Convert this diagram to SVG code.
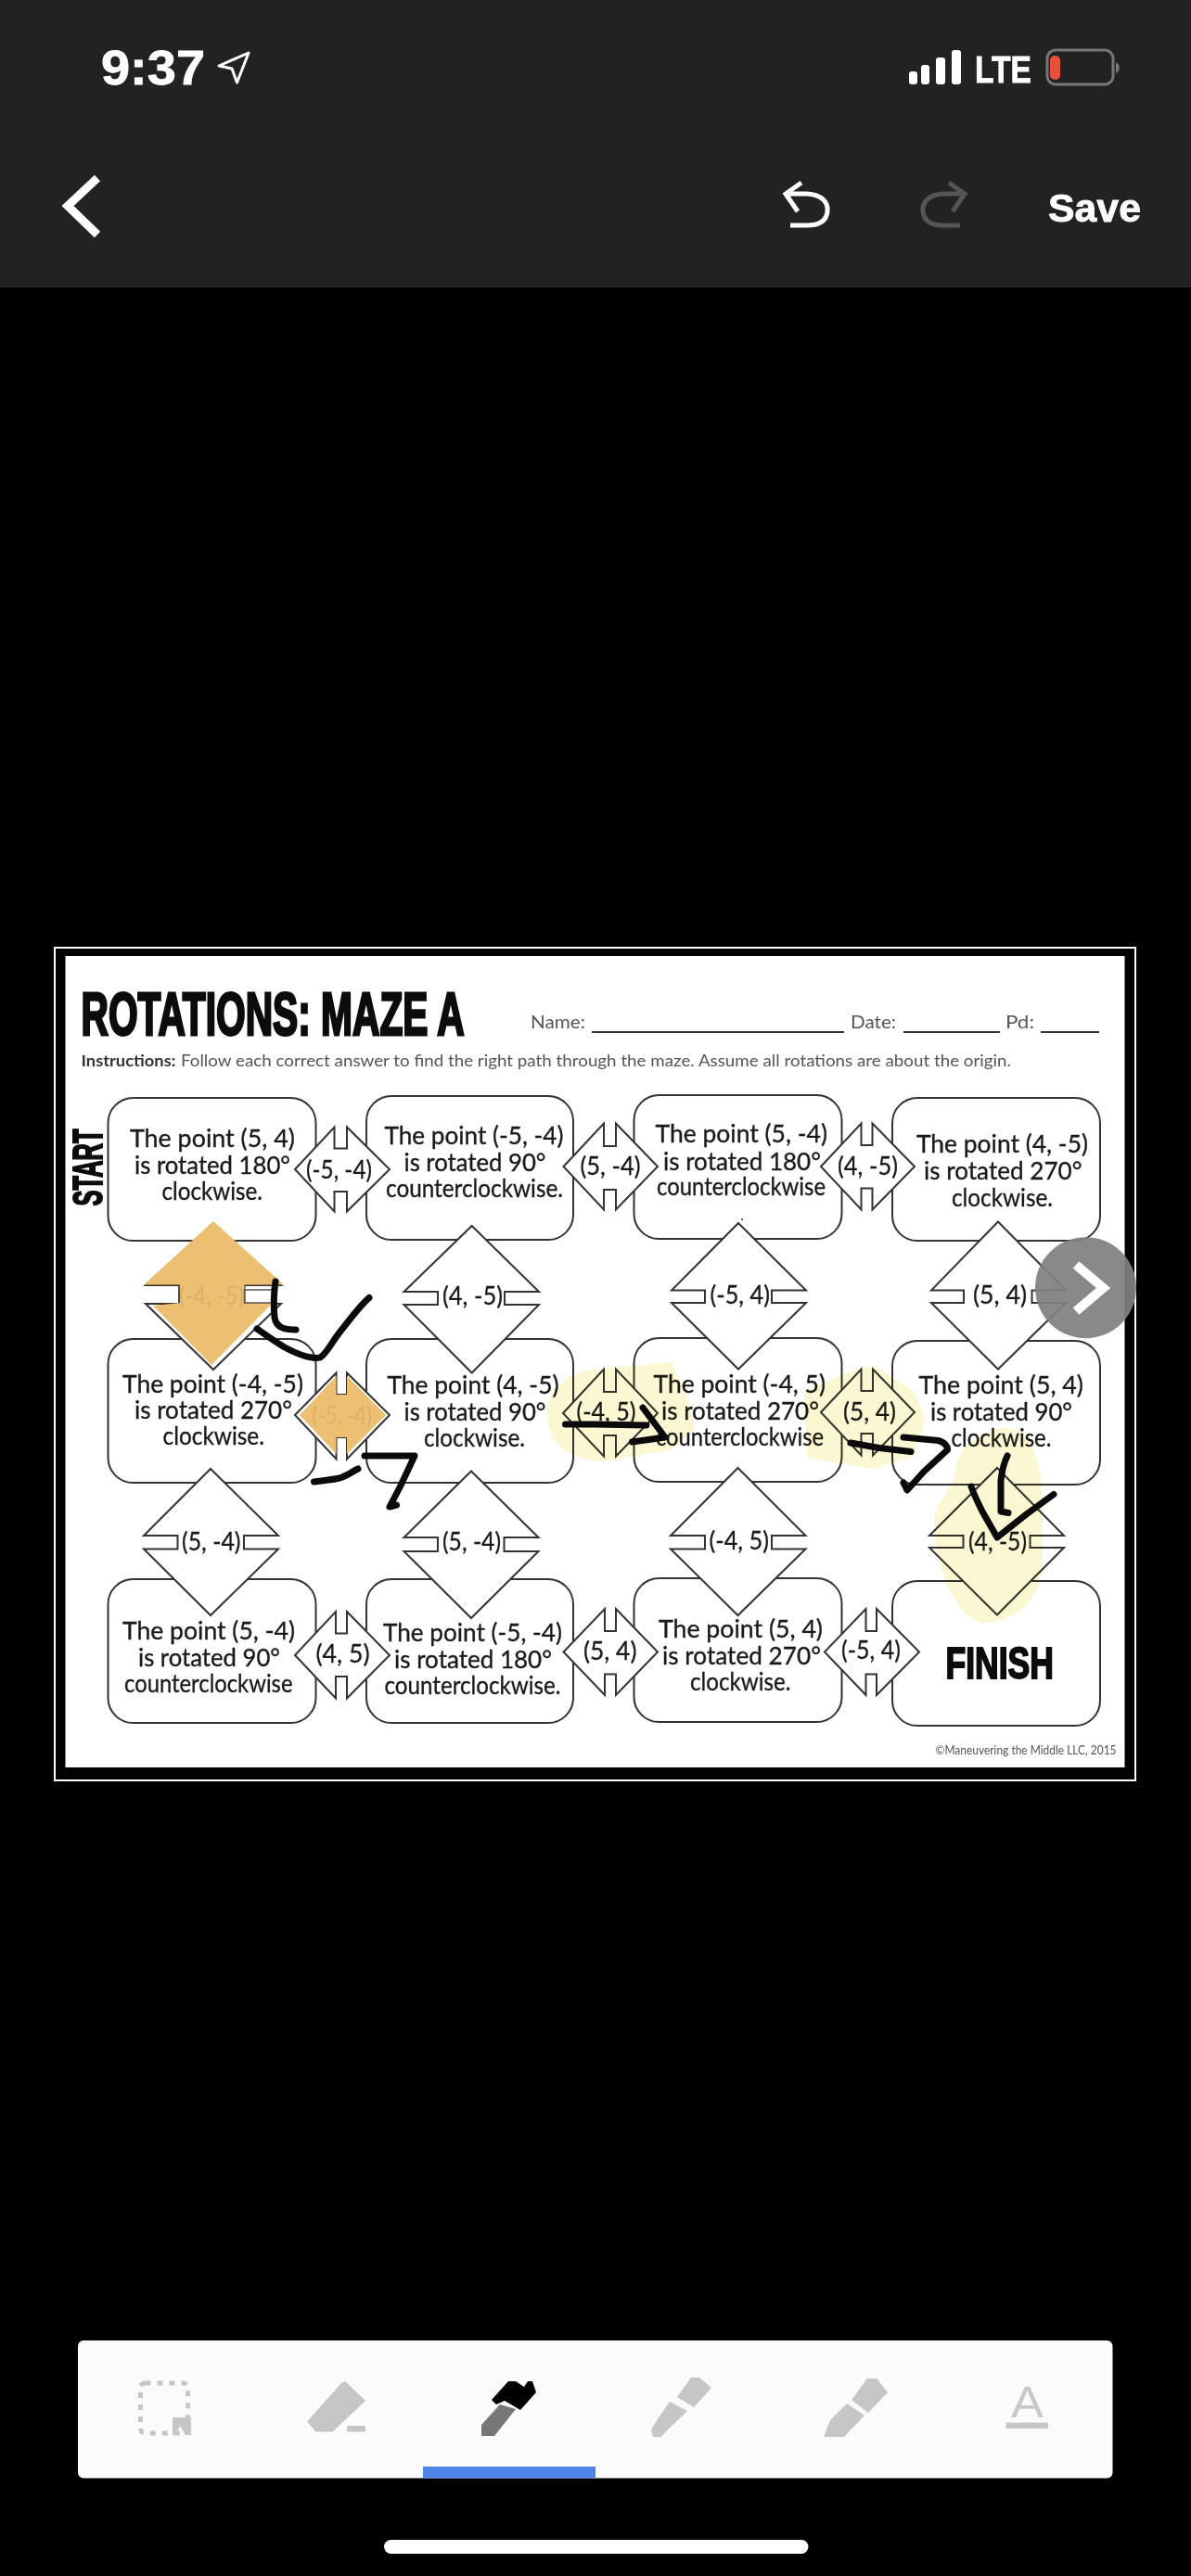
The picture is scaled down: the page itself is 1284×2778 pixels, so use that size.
<svg xmlns="http://www.w3.org/2000/svg" width="1284" height="2778" viewBox="0 0 1284 2778">
<style>
.box{fill:#fff;stroke:#333;stroke-width:2}
.dia{fill:#fff;stroke:#333;stroke-width:2;stroke-linejoin:miter}
text{font-family:"Lato","Liberation Sans",sans-serif}
.t{font-size:27.5px;fill:#1a1a1a;stroke:#1a1a1a;stroke-width:.35}
.l{font-size:26px;fill:#1a1a1a;stroke:#1a1a1a;stroke-width:.3}
.l.f{fill:#d9b06c;stroke:none}
.hd{font-family:"Liberation Sans",sans-serif;font-weight:700;fill:#0c0c0c;stroke:#0c0c0c;stroke-width:2}
.small{fill:#555}
.ui{font-family:"Liberation Sans",sans-serif;font-weight:700;fill:#fff;stroke:#fff;stroke-width:.8}
.ink{fill:none;stroke:#0a0a0a;stroke-width:7;stroke-linecap:round;stroke-linejoin:round}
.hl{fill:#fbf7d2;mix-blend-mode:multiply}
.or{fill:#ecbf72}
.tool{fill:#c6c6c6}
</style>
<rect width="1284" height="2778" fill="#000"/>
<g id="app-header">
<rect width="1284" height="310" fill="#222"/>
<text class="ui" x="109" y="91" font-size="51" textLength="112" lengthAdjust="spacingAndGlyphs">9:37</text>
<path d="M268 57L236 71L250 74L255.500 89Z" fill="none" stroke="#fff" stroke-width="3" stroke-linejoin="round"/>
<rect x="980" y="77" width="9" height="14" rx="3" fill="#fff"/>
<rect x="993" y="70" width="9" height="21" rx="3" fill="#fff"/>
<rect x="1009" y="62" width="10" height="29" rx="3" fill="#fff"/>
<rect x="1026" y="54" width="10" height="37" rx="3" fill="#fff"/>
<text class="ui" x="1051" y="89" font-size="40" textLength="61" lengthAdjust="spacingAndGlyphs">LTE</text>
<rect x="1129" y="54" width="71" height="37" rx="9" fill="none" stroke="#777" stroke-width="3"/>
<rect x="1132" y="60" width="11" height="26" rx="5" fill="#e8503a"/>
<path d="M1203 67C1208 69 1208 77 1203 79Z" fill="#777"/>
<path d="M105 192L73 222L105 253" fill="none" stroke="#fff" stroke-width="9"/>
<g fill="none" stroke="#fff" stroke-width="5">
<path d="M864 197L847 209L860 228M847 209H870C886 210 893 218 892 228C891 238 884 243 870 243H852"/>
</g>
<g fill="none" stroke="#555" stroke-width="5">
<path d="M1023 197L1040 209L1027 228M1040 209H1017C1001 210 994 218 995 228C996 238 1003 243 1017 243H1035"/>
</g>
<text class="ui" x="1130" y="238.500" font-size="42" textLength="100" lengthAdjust="spacingAndGlyphs">Save</text>
</g>
<g id="worksheet">
<rect x="58" y="1021" width="1167" height="900" fill="#fff"/>
<rect x="60" y="1023" width="1163" height="896" fill="#000"/>
<rect x="70.500" y="1031" width="1142" height="875" fill="#fff"/>
<text class="hd" transform="translate(87.500,1116) scale(0.597,1)" font-size="65" stroke-width="3" style="stroke-width:3" textLength="692" lengthAdjust="spacingAndGlyphs">ROTATIONS: MAZE A</text>
<text class="small" x="572" y="1109" font-size="20" textLength="59" lengthAdjust="spacingAndGlyphs">Name:</text>
<path d="M638 1113H910M974 1113H1078M1122 1113H1185" stroke="#333" stroke-width="2"/>
<text class="small" x="917" y="1109" font-size="20" textLength="49" lengthAdjust="spacingAndGlyphs">Date:</text>
<text class="small" x="1084" y="1109" font-size="20" textLength="31" lengthAdjust="spacingAndGlyphs">Pd:</text>
<text x="87.500" y="1150" font-size="17" font-weight="700" fill="#333" textLength="102" lengthAdjust="spacingAndGlyphs">Instructions:</text>
<text class="small" x="195" y="1150" font-size="17" textLength="895" lengthAdjust="spacingAndGlyphs">Follow each correct answer to find the right path through the maze. Assume all rotations are about the origin.</text>
<text class="hd" transform="translate(110,1300.500) rotate(-90)" font-size="44" textLength="83" lengthAdjust="spacingAndGlyphs">START</text>
<text class="small" x="1008.500" y="1891.500" font-size="13.500" textLength="195" lengthAdjust="spacingAndGlyphs">©Maneuvering the Middle LLC, 2015</text>
</g>
<g id="boxes">
<rect id="box-r1c1" class="box" x="116.500" y="1184" width="224" height="154" rx="27"/>
<rect id="box-r1c2" class="box" x="395" y="1182" width="223" height="155" rx="27"/>
<rect id="box-r1c3" class="box" x="683.500" y="1181" width="224" height="155" rx="27"/>
<rect id="box-r1c4" class="box" x="962" y="1184" width="224" height="154" rx="27"/>
<rect id="box-r2c1" class="box" x="116.500" y="1444" width="224" height="155" rx="27"/>
<rect id="box-r2c2" class="box" x="395" y="1444" width="223" height="155" rx="27"/>
<rect id="box-r2c3" class="box" x="683.500" y="1443" width="224" height="155" rx="27"/>
<rect id="box-r2c4" class="box" x="962" y="1446" width="224" height="155" rx="27"/>
<rect id="box-r3c1" class="box" x="116.500" y="1703" width="224" height="155" rx="27"/>
<rect id="box-r3c2" class="box" x="395" y="1703" width="223" height="155" rx="27"/>
<rect id="box-r3c3" class="box" x="683.500" y="1702" width="224" height="155" rx="27"/>
<rect id="box-finish" class="box" x="962" y="1705" width="224" height="156" rx="27"/>
</g>
<g id="connectors">
<path id="d-h1" class="dia" d="M230 1319L303 1386H263.500V1406H303L230 1477L157 1406H193V1386H157Z"/>
<path id="d-h2" class="dia" d="M508.700 1322L581 1393H544V1407H581L508.700 1480.500L435.500 1407H472V1393H435.500Z"/>
<path id="d-h3" class="dia" d="M796 1319L869 1391.500H832V1405H869L796 1476.500L724 1405H760V1391.500H724Z"/>
<path id="d-h4" class="dia" d="M1076 1317.500L1149 1391.500H1112.500V1405H1149L1076 1476.500L1004 1405H1039V1391.500H1004Z"/>
<path id="d-h5" class="dia" d="M227 1584L300 1656H263V1670.500H300L227 1742L155 1670.500H191.500V1656H155Z"/>
<path id="d-h6" class="dia" d="M508 1586.500L580.500 1658H543.500V1673H580.500L508 1745L435.500 1673H472V1658H435.500Z"/>
<path id="d-h7" class="dia" d="M795.500 1583L868.500 1656H832V1670.500H868.500L795.500 1742L723 1670.500H760V1656H723Z"/>
<path id="d-h8" class="dia" d="M1075 1583L1147 1656H1110.500V1669H1147L1075 1741.500L1002 1669H1038.500V1656H1002Z"/>
<path id="d-v1" class="dia" d="M318 1261L360.500 1215.500V1238.500H374V1215.500L420 1261L374 1306.500V1285H360.500V1306.500Z"/>
<path id="d-v2" class="dia" d="M607.500 1258L651 1211.500V1236H664V1211.500L709 1258L664 1304.500V1283H651V1304.500Z"/>
<path id="d-v3" class="dia" d="M885 1258L928.500 1211.500V1235H940.500V1211.500L986 1258L940.500 1304.500V1281.500H928.500V1304.500Z"/>
<path id="d-v4" class="dia" d="M318 1526L362.500 1480.500V1504H374V1480.500L420 1526L374 1573.500V1550H362.500V1573.500Z"/>
<path id="d-v5" class="dia" d="M607 1524L651 1476.500V1501H664V1476.500L709 1524L664 1570.500V1548H651V1570.500Z"/>
<path id="d-v6" class="dia" d="M885 1523L928.500 1476.500V1500H941V1476.500L986 1523L941 1569.500V1546H928.500V1569.500Z"/>
<path id="d-v7" class="dia" d="M318 1785L362 1738V1761.500H374V1738L420 1785L374 1831.500V1808H362V1831.500Z"/>
<path id="d-v8" class="dia" d="M607.500 1781.500L652 1735V1759H664V1735L709 1781.500L664 1828V1805.500H652V1828Z"/>
<path id="d-v9" class="dia" d="M889 1781.500L933.500 1735V1759H945V1735L991 1781.500L945 1828V1805.500H933.500V1828Z"/>
<path id="orange-1" class="or" d="M230 1317L306 1385.500H263.500V1405H294L228 1472L165 1408L194 1405V1385.500H155Z"/>
<path id="orange-2" class="or" d="M323 1526L362.500 1484V1504H374V1484L416 1526L374 1568V1550H362.500V1568Z"/>
<path d="M193 1386V1405M294 1391H263.500V1405H294" fill="none" stroke="#555" stroke-width="1.500"/>
</g>
<g id="labels">
<text class="t" x="140" y="1237" textLength="178" lengthAdjust="spacingAndGlyphs">The point (5, 4)</text>
<text class="t" x="145" y="1266" textLength="168" lengthAdjust="spacingAndGlyphs">is rotated 180°</text>
<text class="t" x="174.500" y="1293.500" textLength="108.500" lengthAdjust="spacingAndGlyphs">clockwise.</text>
<text class="t" x="414.500" y="1234" textLength="193" lengthAdjust="spacingAndGlyphs">The point (-5, -4)</text>
<text class="t" x="435.500" y="1263" textLength="153" lengthAdjust="spacingAndGlyphs">is rotated 90°</text>
<text class="t" x="416" y="1290.500" textLength="191" lengthAdjust="spacingAndGlyphs">counterclockwise.</text>
<text class="t" x="706.500" y="1232" textLength="185.500" lengthAdjust="spacingAndGlyphs">The point (5, -4)</text>
<text class="t" x="715" y="1261.500" textLength="170" lengthAdjust="spacingAndGlyphs">is rotated 180°</text>
<text class="t" x="708" y="1289" textLength="182" lengthAdjust="spacingAndGlyphs">counterclockwise</text>
<text class="t" x="988" y="1243" textLength="185" lengthAdjust="spacingAndGlyphs">The point (4, -5)</text>
<text class="t" x="996" y="1272" textLength="170.500" lengthAdjust="spacingAndGlyphs">is rotated 270°</text>
<text class="t" x="1026" y="1300.500" textLength="109" lengthAdjust="spacingAndGlyphs">clockwise.</text>
<text class="t" x="132" y="1501.500" textLength="195" lengthAdjust="spacingAndGlyphs">The point (-4, -5)</text>
<text class="t" x="145" y="1530" textLength="170" lengthAdjust="spacingAndGlyphs">is rotated 270°</text>
<text class="t" x="175.500" y="1558" textLength="109.500" lengthAdjust="spacingAndGlyphs">clockwise.</text>
<text class="t" x="417.500" y="1503" textLength="185" lengthAdjust="spacingAndGlyphs">The point (4, -5)</text>
<text class="t" x="435.500" y="1532" textLength="153" lengthAdjust="spacingAndGlyphs">is rotated 90°</text>
<text class="t" x="457" y="1559.500" textLength="109" lengthAdjust="spacingAndGlyphs">clockwise.</text>
<text class="t" x="704.500" y="1502" textLength="185.500" lengthAdjust="spacingAndGlyphs">The point (-4, 5)</text>
<text class="t" x="713" y="1531" textLength="170" lengthAdjust="spacingAndGlyphs">is rotated 270°</text>
<text class="t" x="707" y="1559" textLength="181" lengthAdjust="spacingAndGlyphs">counterclockwise</text>
<text class="t" x="990.500" y="1503" textLength="177.500" lengthAdjust="spacingAndGlyphs">The point (5, 4)</text>
<text class="t" x="1003" y="1532" textLength="153" lengthAdjust="spacingAndGlyphs">is rotated 90°</text>
<text class="t" x="1025.500" y="1559.500" textLength="108" lengthAdjust="spacingAndGlyphs">clockwise.</text>
<text class="t" x="132" y="1768" textLength="186" lengthAdjust="spacingAndGlyphs">The point (5, -4)</text>
<text class="t" x="149" y="1797" textLength="153" lengthAdjust="spacingAndGlyphs">is rotated 90°</text>
<text class="t" x="134" y="1825" textLength="181.500" lengthAdjust="spacingAndGlyphs">counterclockwise</text>
<text class="t" x="413" y="1770" textLength="193" lengthAdjust="spacingAndGlyphs">The point (-5, -4)</text>
<text class="t" x="425" y="1799" textLength="170" lengthAdjust="spacingAndGlyphs">is rotated 180°</text>
<text class="t" x="414.500" y="1826.500" textLength="190" lengthAdjust="spacingAndGlyphs">counterclockwise.</text>
<text class="t" x="710" y="1766" textLength="177" lengthAdjust="spacingAndGlyphs">The point (5, 4)</text>
<text class="t" x="714" y="1795" textLength="171" lengthAdjust="spacingAndGlyphs">is rotated 270°</text>
<text class="t" x="744" y="1822.500" textLength="108.500" lengthAdjust="spacingAndGlyphs">clockwise.</text>
<text class="hd" x="1019.500" y="1810" font-size="48" textLength="116.500" lengthAdjust="spacingAndGlyphs">FINISH</text>
<text class="l" x="330" y="1271" textLength="71" lengthAdjust="spacingAndGlyphs">(-5, -4)</text>
<text class="l" x="625.500" y="1267" textLength="65" lengthAdjust="spacingAndGlyphs">(5, -4)</text>
<text class="l" x="903" y="1267" textLength="65" lengthAdjust="spacingAndGlyphs">(4, -5)</text>
<text class="l f" x="336.500" y="1536" textLength="64.500" lengthAdjust="spacingAndGlyphs">(-5, -4)</text>
<text class="l" x="621.500" y="1532" textLength="64" lengthAdjust="spacingAndGlyphs">(-4, 5)</text>
<text class="l" x="909" y="1532" textLength="57" lengthAdjust="spacingAndGlyphs">(5, 4)</text>
<text class="l" x="340.500" y="1793" textLength="58" lengthAdjust="spacingAndGlyphs">(4, 5)</text>
<text class="l" x="629" y="1790" textLength="57.500" lengthAdjust="spacingAndGlyphs">(5, 4)</text>
<text class="l" x="907" y="1789" textLength="64" lengthAdjust="spacingAndGlyphs">(-5, 4)</text>
<text class="l f" x="193" y="1406.500" textLength="70" lengthAdjust="spacingAndGlyphs">(-4, -5)</text>
<text class="l" x="477" y="1407" textLength="65" lengthAdjust="spacingAndGlyphs">(4, -5)</text>
<text class="l" x="765.500" y="1406" textLength="64.500" lengthAdjust="spacingAndGlyphs">(-5, 4)</text>
<text class="l" x="1049" y="1406" textLength="58" lengthAdjust="spacingAndGlyphs">(5, 4)</text>
<text class="l" x="196" y="1671.500" textLength="63.500" lengthAdjust="spacingAndGlyphs">(5, -4)</text>
<text class="l" x="477" y="1672" textLength="63" lengthAdjust="spacingAndGlyphs">(5, -4)</text>
<text class="l" x="764.500" y="1670.500" textLength="64.500" lengthAdjust="spacingAndGlyphs">(-4, 5)</text>
<text class="l" x="1044" y="1671.500" textLength="63" lengthAdjust="spacingAndGlyphs">(4, -5)</text>
</g>
<g id="highlights">
<path class="hl" d="M590 1525C590 1495 615 1477 650 1476L723 1469L735 1490L750 1540L725 1563L650 1576C610 1575 590 1555 590 1525Z"/>
<path class="hl" d="M867 1500L925 1476L945 1474L985 1500L998 1530L985 1570L940 1584L870 1572Z"/>
<path class="hl" d="M1030 1590C1030 1560 1060 1540 1085 1540C1110 1540 1122 1570 1124 1620V1690C1120 1730 1090 1750 1060 1750C1030 1745 1007 1690 1007 1640C1007 1620 1025 1610 1030 1590Z"/>
</g>
<g id="ink">
<path class="ink" d="M297 1382C295 1395 295 1410 296 1421C298 1432 307 1434 319 1434"/>
<path class="ink" d="M277 1433C290 1442 300 1449 307 1453C320 1460 335 1466 345 1464C352 1460 358 1447 366 1437C378 1422 388 1408 398 1399.500"/>
<path class="ink" d="M338.500 1598C350 1596 358 1596 366 1594C373 1592 380 1587 386 1584"/>
<path class="ink" d="M393 1570H447L431.500 1603L420 1625L427.500 1623"/>
<path class="ink" d="M609.500 1536H640L697 1537"/>
<path class="ink" d="M693 1518L717 1550L681.500 1555"/>
<path class="ink" d="M917 1556L948 1561.500L982 1565.500"/>
<path class="ink" d="M974 1550L1011.500 1553.500C1018 1555 1022 1560 1021.500 1563.500L996 1587L978 1607L974 1599"/>
<path class="ink" d="M1086 1570C1082 1578 1080 1588 1079 1596.500V1630L1087 1631.500"/>
<path class="ink" d="M1047 1603C1050 1612 1054 1620 1059 1630L1075 1658L1106.500 1633L1136 1611.500"/>
<circle cx="800" cy="1315" r="1" fill="#222"/>
</g>
<g id="next-button">
<circle cx="1170.500" cy="1388.700" r="54.500" fill="#808080" opacity="0.93"/>
<path d="M1160 1364L1189.500 1389L1160 1414" fill="none" stroke="#fff" stroke-width="10"/>
</g>
<g id="toolbar">
<rect x="84" y="2524" width="1115.500" height="148.500" rx="6" fill="#fbfbfb"/>
<rect x="456" y="2660" width="186" height="12.500" fill="#4f84e8"/>
<rect x="151.500" y="2570" width="51" height="54" rx="5" fill="none" stroke="#c6c6c6" stroke-width="5" stroke-dasharray="6 7"/>
<path class="tool" d="M186 2607L206 2607V2626H200L194 2616L190 2626H186Z"/>
<path class="tool" d="M372 2568L394 2589L358.500 2622.500H340.500L331 2611.500L368 2570Z"/>
<rect class="tool" x="374" y="2616" width="20" height="6.500"/>
<path d="M530 2588L548 2568H556L565 2574L569 2568H574L578 2580L561 2599L544 2589L535 2593Z" fill="#000"/>
<path d="M539 2593L556 2598L533 2627H519V2615Z" fill="#777"/>
<path class="tool" d="M745 2564H754L767 2575L748 2596L730 2585Z"/>
<path class="tool" d="M722 2590L741 2600L717 2623L713 2628H704L702 2620L709.500 2608Z"/>
<path class="tool" d="M935 2565H945L957 2580L936 2602L918 2588Z"/>
<path class="tool" d="M913 2592L932 2605L910 2628H888L895 2610Z"/>
<text x="1090" y="2607" font-size="49" fill="#c8c8c8" style="font-family:'Liberation Sans',sans-serif" textLength="35" lengthAdjust="spacingAndGlyphs">A</text>
<rect class="tool" x="1084.500" y="2612.500" width="45.500" height="6.500"/>
</g>
<rect id="home-indicator" x="414" y="2739" width="457.500" height="15" rx="7.500" fill="#fff"/>
</svg>
